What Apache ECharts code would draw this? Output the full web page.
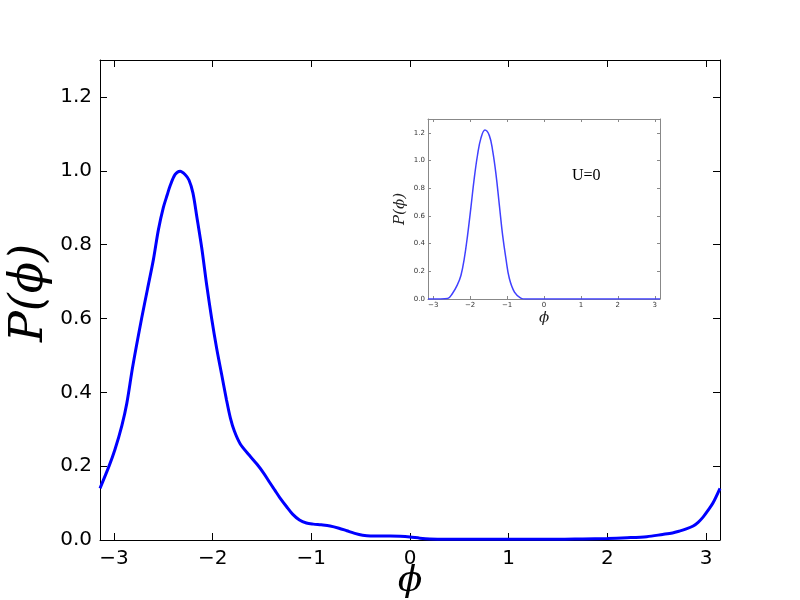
<!DOCTYPE html>
<html>
<head>
<meta charset="utf-8">
<script src="https://cdn.jsdelivr.net/npm/echarts@6/dist/echarts.min.js"></script>
<style>html,body{margin:0;padding:0;background:#fff}#c{width:800px;height:600px}</style>
</head>
<body>
<div id="c"></div>
<script>
// Main curve P(phi)
const mainPhi = [-3.1416,-3.05,-2.99,-2.92,-2.87,-2.81,-2.72,-2.66,-2.60,-2.55,-2.50,-2.46,-2.43,-2.38,-2.33,-2.28,-2.24,-2.20,-2.16,-2.11,-2.06,-2.01,-1.96,-1.91,-1.86,-1.82,-1.78,-1.72,-1.63,-1.55,-1.48,-1.42,-1.37,-1.32,-1.25,-1.19,-1.12,-1.05,-0.98,-0.90,-0.81,-0.72,-0.64,-0.56,-0.48,-0.40,-0.30,-0.20,-0.10,0.0,0.1,0.2,0.35,0.5,0.75,1.0,1.25,1.5,1.75,2.0,2.2,2.4,2.56,2.66,2.73,2.80,2.87,2.92,2.97,3.02,3.07,3.1416];
const mainP   = [0.14,0.20,0.245,0.31,0.37,0.47,0.60,0.68,0.76,0.84,0.90,0.935,0.96,0.99,0.999,0.99,0.975,0.94,0.875,0.79,0.69,0.60,0.52,0.45,0.38,0.33,0.295,0.26,0.23,0.205,0.18,0.155,0.135,0.115,0.09,0.07,0.054,0.046,0.043,0.041,0.038,0.032,0.025,0.018,0.013,0.011,0.011,0.011,0.010,0.008,0.005,0.003,0.002,0.002,0.002,0.002,0.002,0.002,0.003,0.004,0.006,0.009,0.015,0.019,0.024,0.030,0.038,0.048,0.062,0.080,0.10,0.14];
// Inset curve (U=0)
const insetPhi = [-3.1416,-2.8,-2.61,-2.48,-2.35,-2.25,-2.16,-2.07,-1.98,-1.89,-1.80,-1.71,-1.60,-1.48,-1.39,-1.30,-1.21,-1.12,-1.03,-0.94,-0.80,-0.63,-0.5,0.0,1.0,2.0,3.1416];
const insetP   = [0,0,0.003,0.04,0.10,0.17,0.29,0.46,0.66,0.87,1.04,1.16,1.22,1.18,1.07,0.90,0.68,0.46,0.29,0.15,0.05,0.007,0,0,0,0,0];
// Tick labels
const xTicks = [-3,-2,-1,0,1,2,3];
const yTicksMain = [0,0.2,0.4,0.6,0.8,1.0,1.2];
const yTicksInset = [0,0.2,0.4,0.6,0.8,1.0,1.2];
const insetLabel = 'U=0';

const pair = (xs, ys) => xs.map((x, i) => [x, ys[i]]);
const fmtX = v => (v < 0 ? '\u2212' + Math.abs(v) : String(v));
const fmtY = v => v.toFixed(1);
const PI = Math.PI;

function xAx(grid, pos, showLabel, fs, col, tickLen, name, nameStyle, nameGap) {
  return {
    type: 'value', gridIndex: grid, position: pos, min: -PI, max: PI,
    axisLine: { show: true, onZero: false, lineStyle: { color: col, width: 1 } },
    axisTick: { show: true, inside: true, length: tickLen, customValues: xTicks, lineStyle: { color: col } },
    axisLabel: { show: showLabel, customValues: xTicks, formatter: fmtX, fontSize: fs, color: grid === 0 ? '#000' : '#333', fontFamily: 'DejaVu Sans', margin: grid === 0 ? 9 : 3 },
    splitLine: { show: false },
    name: name || '', nameLocation: 'middle', nameGap: nameGap || 0, nameMoveOverlap: false, nameTextStyle: nameStyle || {}
  };
}
function yAx(grid, pos, showLabel, fs, col, tickLen, ticks, max, name, nameStyle, nameGap) {
  return {
    type: 'value', gridIndex: grid, position: pos, min: 0, max: max,
    axisLine: { show: true, onZero: false, lineStyle: { color: col, width: 1 } },
    axisTick: { show: true, inside: true, length: tickLen, customValues: ticks, lineStyle: { color: col } },
    axisLabel: { show: showLabel, customValues: ticks, formatter: fmtY, fontSize: fs, color: grid === 0 ? '#000' : '#333', fontFamily: 'DejaVu Sans', margin: grid === 0 ? 8 : 3 },
    splitLine: { show: false },
    name: name || '', nameLocation: 'middle', nameGap: nameGap || 0, nameMoveOverlap: false, nameTextStyle: nameStyle || {}
  };
}

const mathMain = { fontFamily: 'DejaVu Serif', fontStyle: 'italic', fontSize: 46, color: '#000', padding: [0, 0, 0, 14] };
const mathMainX = { fontFamily: 'DejaVu Serif', fontStyle: 'italic', fontSize: 36, color: '#000' };
const mathInset = { fontFamily: 'DejaVu Serif', fontStyle: 'italic', fontSize: 15, color: '#222' };

const chart = echarts.init(document.getElementById('c'), null, { renderer: 'canvas' });
chart.setOption({
  animation: false,
  backgroundColor: '#fff',
  grid: [
    { left: 100, right: 80, top: 60, bottom: 60, show: false, containLabel: false, outerBoundsMode: 'none' },
    { left: 428, right: 140, top: 119, bottom: 301, show: false, containLabel: false, outerBoundsMode: 'none' }
  ],
  xAxis: [
    xAx(0, 'bottom', true, 20, '#000', 7, '\u03D5', mathMainX, 24),
    xAx(0, 'top', false, 20, '#000', 7),
    xAx(1, 'bottom', true, 7, '#888', 3, '\u03D5', mathInset, 12),
    xAx(1, 'top', false, 7, '#888', 3)
  ],
  yAxis: [
    yAx(0, 'left', true, 20, '#000', 7, yTicksMain, 1.3, 'P(\u03D5)', mathMain, 47),
    yAx(0, 'right', false, 20, '#000', 7, yTicksMain, 1.3),
    yAx(1, 'left', true, 7, '#888', 3, yTicksInset, 1.3, 'P(\u03D5)', mathInset, 20),
    yAx(1, 'right', false, 7, '#888', 3, yTicksInset, 1.3)
  ],
  series: [
    { type: 'line', xAxisIndex: 0, yAxisIndex: 0, data: pair(mainPhi, mainP), smooth: 0.3, showSymbol: false, lineStyle: { color: '#0000ff', width: 3 }, clip: true },
    { type: 'line', xAxisIndex: 2, yAxisIndex: 2, data: pair(insetPhi, insetP), smooth: 0.4, showSymbol: false, lineStyle: { color: '#4040ff', width: 1.5 }, clip: true }
  ],
  graphic: [
    { type: 'text', left: 572, top: 168, style: { text: insetLabel, fontFamily: 'Liberation Serif', fontSize: 16, fill: '#000' } }
  ]
});
</script>
</body>
</html>
